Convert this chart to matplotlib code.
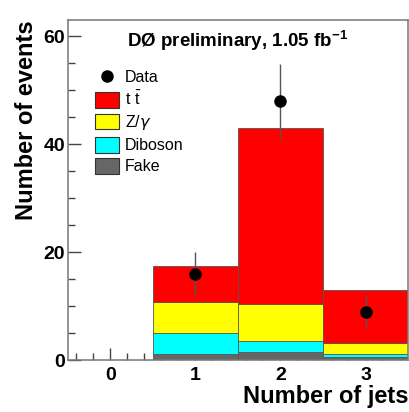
import matplotlib
matplotlib.use('Agg')
import matplotlib.pyplot as plt
import numpy as np
from matplotlib.patches import Patch
from matplotlib.lines import Line2D
from matplotlib.ticker import MultipleLocator

plt.rcParams['font.family'] = 'Liberation Sans'
plt.rcParams['mathtext.fontset'] = 'custom'
plt.rcParams['mathtext.rm'] = 'Liberation Sans'
plt.rcParams['mathtext.bf'] = 'Liberation Sans:bold'

# number of jets bins
jets = [1, 2, 3]
fake = [1.2, 1.5, 0.6]
diboson = [3.9, 2.1, 0.5]
zgamma = [5.6, 6.8, 2.1]
ttbar = [6.8, 32.6, 9.8]

data_x = [1, 2, 3]
data_y = [16, 48, 9]
data_err = [4, 6.9, 3]

labels = ['Data', r'$\mathrm{t\ \bar{t}}$', r'Z/$\gamma$', 'Diboson', 'Fake']
colors = ['#ff0000', '#ffff00', '#00ffff', '#666666']

fig = plt.figure(figsize=(4.09, 4.12), dpi=100)
ax = fig.add_axes([0.166, 0.126, 0.8316, 0.8255])

b0 = np.zeros(3)
for vals, col in zip([fake, diboson, zgamma, ttbar], colors[::-1]):
    ax.bar(jets, vals, width=1.0, bottom=b0, color=col, edgecolor='#555555', linewidth=0.6, zorder=2)
    b0 = b0 + np.array(vals)

ax.errorbar(data_x, data_y, yerr=data_err, fmt='o', color='black', ms=8,
            ecolor='#555555', elinewidth=1, capsize=0, zorder=4)

ax.set_xlim(-0.5, 3.5)
ax.set_ylim(0, 63)
ax.set_xticks([0, 1, 2, 3])
ax.set_yticks([0, 20, 40, 60])
ax.xaxis.set_minor_locator(MultipleLocator(0.2))
ax.yaxis.set_minor_locator(MultipleLocator(5))
ax.tick_params(which='both', direction='in', top=False, right=False, labelsize=14, zorder=5,
               color='#444444')
ax.tick_params(which='major', length=9, width=1)
ax.tick_params(which='minor', length=5, width=1)
ax.tick_params(axis='x', pad=5)
ax.tick_params(axis='y', pad=2)
for lab in ax.get_xticklabels() + ax.get_yticklabels():
    lab.set_fontweight('bold')
for sp in ax.spines.values():
    sp.set_color('#777777')
    sp.set_linewidth(1.1)

ax.set_ylabel('Number of events', fontsize=17, fontweight='bold', loc='top', labelpad=4)
ax.set_xlabel('Number of jets', fontsize=17, fontweight='bold', loc='right')
ax.xaxis.set_label_coords(1.0, -0.072)

ax.text(0.5, 0.94, r'DØ preliminary, 1.05 fb$^{\mathbf{-1}}$', transform=ax.transAxes,
        ha='center', va='center', fontsize=13.5, fontweight='bold')

handles = [Line2D([], [], marker='o', color='black', ls='none', ms=8)]
handles += [Patch(facecolor=c, edgecolor='#333333', lw=0.8) for c in colors]
ax.legend(handles, labels, loc='upper left', bbox_to_anchor=(0.06, 0.875), frameon=False,
          fontsize=11.5, handlelength=1.5, handleheight=1.15, labelspacing=0.3, handletextpad=0.4,
          borderaxespad=0)

fig.savefig('out.png', dpi=100)
